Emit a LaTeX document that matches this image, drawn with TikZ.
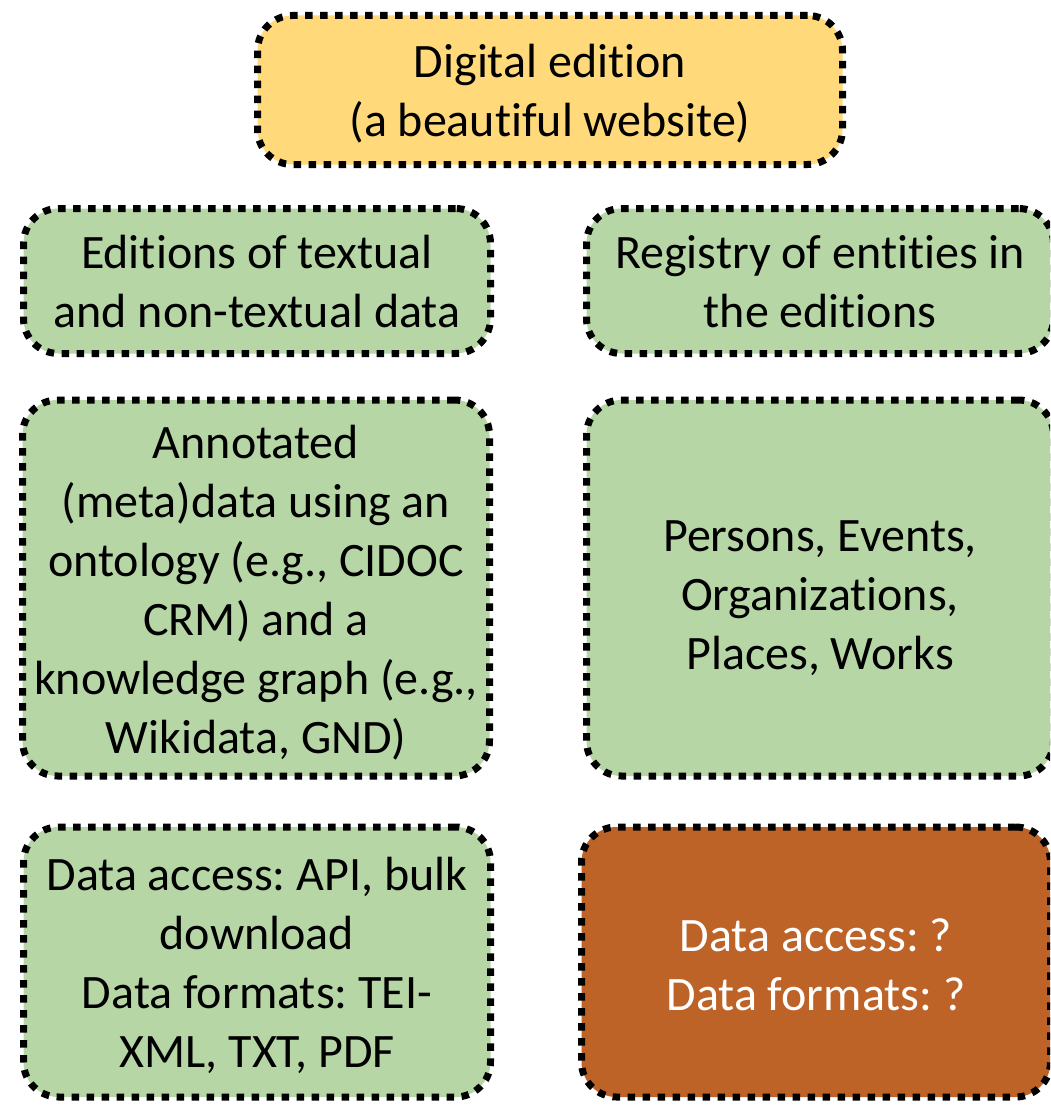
\documentclass[tikz,border=0pt]{standalone}
\usepackage{fontspec}
\setmainfont{Carlito}[Ligatures=NoCommon]
\frenchspacing
\definecolor{gold}{RGB}{255,217,122}
\definecolor{leaf}{RGB}{183,214,165}
\definecolor{rust}{RGB}{190,99,39}
\tikzset{
  box/.style={draw=black, line width=7pt, dash pattern=on 7.5pt off 7.5pt,
    rounded corners=35pt, inner sep=0pt},
  txt/.style={align=center, inner sep=0pt, font=\fontsize{48}{59}\selectfont},
}
\begin{document}
\begin{tikzpicture}[x=1pt,y=-1pt]
\useasboundingbox (0,0) rectangle (1050,1105);
\clip (0,0) rectangle (1050,1105);
\node[box, fill=gold, minimum width=585pt, minimum height=149pt] (top) at (550,90) {};
\node[txt] (topt) at ([yshift=-4pt]top.center) {Digital edition\\(a beautiful website)};
\node[box, fill=leaf, minimum width=467pt, minimum height=145pt] (l1) at (257,281) {};
\node[txt] (l1t) at ([yshift=-1pt]l1.center) {Editions of textual\\and non-textual data};
\node[box, fill=leaf, minimum width=467pt, minimum height=145pt] (r1) at (820,281) {};
\node[txt] (r1t) at ([yshift=-1pt]r1.center) {Registry of entities in\\the editions};
\node[box, fill=leaf, minimum width=467pt, minimum height=376pt] (l2) at (256,588) {};
\node[txt] (l2t) at ([yshift=-5pt]l2.center) {Annotated\\(meta)data using an\\ontology (e.g., CIDOC\\CRM) and a\\knowledge graph (e.g.,\\Wikidata, GND)};
\node[box, fill=leaf, minimum width=467pt, minimum height=376pt] (r2) at (820,588) {};
\node[txt] (r2t) at ([yshift=-10pt]r2.center) {Persons, Events,\\Organizations,\\Places, Works};
\node[box, fill=leaf, minimum width=467pt, minimum height=270pt] (l3) at (257,962) {};
\node[txt] (l3t) at ([yshift=-3pt]l3.center) {Data access: API, bulk\\download\\Data formats: TEI-\\XML, TXT, PDF};
\node[box, fill=rust, minimum width=469pt, minimum height=270pt] (r3) at (816,962) {};
\node[txt, text=white] (r3t) at ([yshift=-3pt]r3.center) {Data access: ?\\Data formats: ?};
\end{tikzpicture}
\end{document}
